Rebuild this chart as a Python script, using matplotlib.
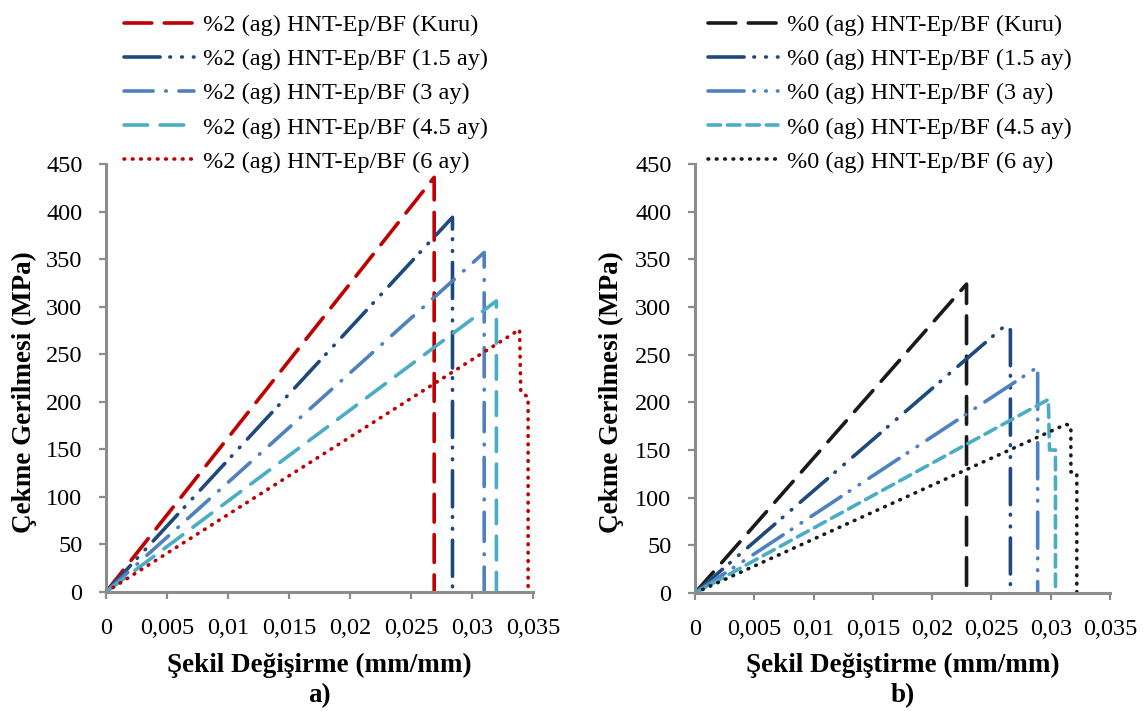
import matplotlib
matplotlib.use("Agg")
import matplotlib.pyplot as plt
from matplotlib.ticker import FuncFormatter

plt.rcParams['font.family'] = ['Liberation Serif', 'DejaVu Serif']
plt.rcParams['lines.scale_dashes'] = False

# a) %2 (ag) HNT-Ep/BF
labels_a = ["%2 (ag) HNT-Ep/BF (Kuru)", "%2 (ag) HNT-Ep/BF (1.5 ay)",
            "%2 (ag) HNT-Ep/BF (3 ay)", "%2 (ag) HNT-Ep/BF (4.5 ay)",
            "%2 (ag) HNT-Ep/BF (6 ay)"]
strain_a_kuru = [0, 0.0269, 0.0269]
stress_a_kuru = [0, 436, 0]
strain_a_15 = [0, 0.0284, 0.0284]
stress_a_15 = [0, 394, 0]
strain_a_3 = [0, 0.0310, 0.0310]
stress_a_3 = [0, 357, 0]
strain_a_45 = [0, 0.0320, 0.0320]
stress_a_45 = [0, 306, 0]
strain_a_6 = [0, 0.0339, 0.0340, 0.0346, 0.0346]
stress_a_6 = [0, 276, 210, 205, 0]

# b) %0 (ag) HNT-Ep/BF
labels_b = ["%0 (ag) HNT-Ep/BF (Kuru)", "%0 (ag) HNT-Ep/BF (1.5 ay)",
            "%0 (ag) HNT-Ep/BF (3 ay)", "%0 (ag) HNT-Ep/BF (4.5 ay)",
            "%0 (ag) HNT-Ep/BF (6 ay)"]
strain_b_kuru = [0, 0.0229, 0.0229]
stress_b_kuru = [0, 324, 0]
strain_b_15 = [0, 0.0262, 0.0266, 0.0266]
stress_b_15 = [0, 281, 276, 0]
strain_b_3 = [0, 0.0289, 0.0289]
stress_b_3 = [0, 237, 0]
strain_b_45 = [0, 0.0298, 0.0299, 0.0304, 0.0304]
stress_b_45 = [0, 203, 150, 150, 0]
strain_b_6 = [0, 0.0313, 0.0317, 0.0317, 0.0322, 0.0322]
stress_b_6 = [0, 177, 175, 127, 126, 0]

x_ticks = [0, 0.005, 0.01, 0.015, 0.02, 0.025, 0.03, 0.035]
y_ticks = [0, 50, 100, 150, 200, 250, 300, 350, 400, 450]

RED = '#C00000'
DARK = '#1F497D'
MID = '#4F81BD'
CYAN = '#4BACC6'
BLACK = '#1A1A1A'
GRAY = '#8C8C8C'

LW = 2.6
long_dash = (0, (20, 9))
dash_dot_dot = (0, (26, 7, 0.5, 8, 0.5, 8))
dash_dot = (0, (21, 9, 0.5, 9))
med_dash = (0, (17, 9))
short_dash = (0, (9, 5))
dots = (0, (0.5, 5.5))

FS = 17.5
LFS = 19.5

fig = plt.figure(figsize=(11.47, 7.11), dpi=100)
ax_a = fig.add_axes([106 / 1147, 1 - 592 / 711, 427 / 1147, 428 / 711])
ax_b = fig.add_axes([695 / 1147, 1 - 593 / 711, 415 / 1147, 429 / 711])


def fmt(v, pos):
    if v == 0:
        return "0"
    return ("%g" % v).replace(".", ",")


def style(ax):
    ax.set_xlim(0, 0.035)
    ax.set_ylim(0, 450)
    ax.set_xticks(x_ticks)
    ax.set_yticks(y_ticks)
    ax.xaxis.set_major_formatter(FuncFormatter(fmt))
    for s in ['top', 'right']:
        ax.spines[s].set_visible(False)
    for s in ['left', 'bottom']:
        ax.spines[s].set_color(GRAY)
        ax.spines[s].set_linewidth(2.2)
    ax.tick_params(axis='both', direction='out', length=5, width=1.6,
                   color=GRAY, labelsize=FS)
    ax.tick_params(axis='x', pad=14)
    ax.tick_params(axis='y', pad=12)
    ax.patch.set_visible(False)


caps = dict(dash_capstyle='round', solid_capstyle='round')

ax_a.plot(strain_a_kuru, stress_a_kuru, color=RED, lw=LW, ls=long_dash, label=labels_a[0], **caps)
ax_a.plot(strain_a_15, stress_a_15, color=DARK, lw=LW, ls=dash_dot_dot, label=labels_a[1], **caps)
ax_a.plot(strain_a_3, stress_a_3, color=MID, lw=LW, ls=dash_dot, label=labels_a[2], **caps)
ax_a.plot(strain_a_45, stress_a_45, color=CYAN, lw=LW, ls=med_dash, label=labels_a[3], **caps)
ax_a.plot(strain_a_6, stress_a_6, color=RED, lw=LW, ls=dots, label=labels_a[4], **caps)

ax_b.plot(strain_b_kuru, stress_b_kuru, color=BLACK, lw=LW, ls=long_dash, label=labels_b[0], **caps)
ax_b.plot(strain_b_15, stress_b_15, color=DARK, lw=LW, ls=dash_dot_dot, label=labels_b[1], **caps)
ax_b.plot(strain_b_3, stress_b_3, color=MID, lw=LW, ls=dash_dot_dot, label=labels_b[2], **caps)
ax_b.plot(strain_b_45, stress_b_45, color=CYAN, lw=LW, ls=short_dash, label=labels_b[3], **caps)
ax_b.plot(strain_b_6, stress_b_6, color=BLACK, lw=LW, ls=dots, label=labels_b[4], **caps)

for ax, xl, tag, lx in [(ax_a, "Şekil Değişirme (mm/mm)", "a)", 124),
                        (ax_b, "Şekil Değiştirme (mm/mm)", "b)", 708)]:
    style(ax)
    ax.legend(loc='upper left', bbox_to_anchor=(lx / 1147, 1 - 14 / 711),
              bbox_transform=fig.transFigure, frameon=False, fontsize=FS,
              handlelength=2.9, handletextpad=0.35, labelspacing=0.5,
              borderpad=0, borderaxespad=0)
    cx = ax.get_position().x0 + ax.get_position().width / 2
    fig.text(cx, 1 - 665 / 711, xl, ha='center', va='center',
             fontsize=LFS, fontweight='bold')
    fig.text(cx, 1 - 696 / 711, tag, ha='center', va='center',
             fontsize=LFS, fontweight='bold')

fig.text(24 / 1147, 1 - 392 / 711, "Çekme Gerilmesi (MPa)", rotation=90,
         ha='center', va='center', fontsize=LFS, fontweight='bold')
fig.text(611 / 1147, 1 - 392 / 711, "Çekme Gerilmesi (MPa)", rotation=90,
         ha='center', va='center', fontsize=LFS, fontweight='bold')

fig.savefig("out.png", dpi=100)
